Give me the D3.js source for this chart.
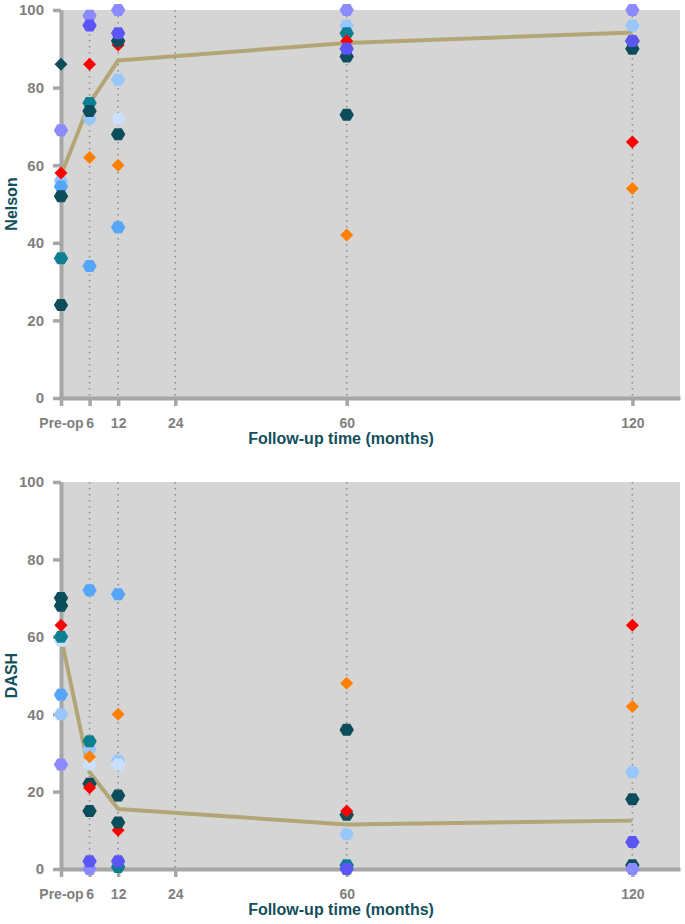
<!DOCTYPE html>
<html>
<head>
<meta charset="utf-8">
<script src="https://cdn.jsdelivr.net/npm/d3@7"></script>
<style>
	body { margin: 0; background: #fff; }
	text { font-family: "Liberation Sans", Arial, sans-serif; font-weight: bold; }
</style>
</head>
<body>
<div id="chart-area"></div>
<script>
// SVG Size
let width = 685,
	height = 924;

// time points (Pre-op = 0)
const months = [0, 6, 12, 60, 120];
const xTicks = [0, 6, 12, 24, 60, 120];
const xTickLabels = ["Pre-op", "6", "12", "24", "60", "120"];
const gridMonths = [6, 12, 24, 60, 120];
const yTicks = [0, 20, 40, 60, 80, 100];

// one entry per patient, in drawing order
const seriesNames = ["pale", "vpale", "light", "teal", "darkA", "red", "darkB", "lavender", "violet", "orange", "darkDiamond"];

// values at Pre-op, 6, 12, 60, 120 months
const nelsonValues = [
	[56, 72, 82, 96, 96],
	[null, null, 72, null, null],
	[54.5, 34, 44, null, null],
	[36, 76, null, 94, null],
	[52, 74, 68, 73, 90],
	[58, 86, 91, 92, 66],
	[24, null, 92, 88, 92],
	[69, 98.5, 100, 100, 100],
	[null, 96, 94, 90, 92],
	[null, 62, 60, 42, 54],
	[86, null, null, null, null]
];
const dashValues = [
	[40, 31, 28, 9, 25],
	[59, 27, 27, null, null],
	[45, 72, 71, null, null],
	[60, 33, 0.5, 1, null],
	[70, 22, 19, 14, 18],
	[63, 21, 10, 15, 63],
	[68, 15, 12, 36, 1],
	[27, 0, null, null, 0],
	[null, 2, 2, 0, 7],
	[null, 29, 40, 48, 42],
	[null, null, null, null, null]
];

const nelsonMean = [57.5, 76, 87, 91.5, 94.2];
const dashMean = [60, 25, 15.5, 11.5, 12.5];

// marker looks
const markerStyle = {
	pale: { color: "#99c6fb", shape: "hex" },
	vpale: { color: "#c9dffb", shape: "hex" },
	light: { color: "#55a6f8", shape: "hex" },
	teal: { color: "#0e7e92", shape: "hex" },
	darkA: { color: "#0b4d5b", shape: "hex" },
	red: { color: "#ff0000", shape: "diamond" },
	darkB: { color: "#0b4d5b", shape: "hex" },
	lavender: { color: "#8b8bff", shape: "hex" },
	violet: { color: "#5b55f6", shape: "hex" },
	orange: { color: "#ff8000", shape: "diamond" },
	darkDiamond: { color: "#0b4d5b", shape: "diamond" }
};

const axisGray = "#a6a6a6",
	labelGray = "#7f7f7f",
	titleColor = "#134f5c";

function markerPath(shape) {
	if (shape == "diamond") {
		return "M0,-6.5L6.5,0L0,6.5L-6.5,0Z";
	}
	return "M-7.2,0L-3.6,-6L3.6,-6L7.2,0L3.6,6L-3.6,6Z";
}

let svg = d3.select("#chart-area").append("svg")
	.attr("width", width)
	.attr("height", height);

drawPanel(nelsonValues, nelsonMean, "Nelson", 10, 398);
drawPanel(dashValues, dashMean, "DASH", 482, 869);

function drawPanel(values, mean, yLabel, top, bottom) {
	let g = svg.append("g");

	let x = d3.scaleLinear()
		.domain([0, 130])
		.range([61, 680]);
	let y = d3.scaleLinear()
		.domain([0, 100])
		.range([bottom, top]);

	// plot background
	g.append("rect")
		.attr("x", x(0))
		.attr("y", y(100))
		.attr("width", x(130) - x(0))
		.attr("height", y(0) - y(100))
		.attr("fill", "#d5d5d5");

	// dotted vertical grid
	g.selectAll(".grid").data(gridMonths).enter()
		.append("line")
		.attr("x1", d => x(d))
		.attr("x2", d => x(d))
		.attr("y1", y(100))
		.attr("y2", y(0))
		.attr("stroke", "#8f8f8f")
		.attr("stroke-width", 1.6)
		.attr("stroke-dasharray", "1.6,4.4");

	// axes
	let xAxis = d3.axisBottom(x)
		.tickValues(xTicks)
		.tickFormat((d, i) => xTickLabels[i])
		.tickSize(8)
		.tickSizeOuter(0)
		.tickPadding(12);
	let yAxis = d3.axisLeft(y)
		.tickValues(yTicks)
		.tickSize(8)
		.tickSizeOuter(0)
		.tickPadding(9);

	let xg = g.append("g")
		.attr("transform", "translate(0," + y(0) + ")")
		.call(xAxis);
	let yg = g.append("g")
		.attr("transform", "translate(" + x(0) + ",0)")
		.call(yAxis);

	[xg, yg].forEach(a => {
		a.select(".domain").attr("stroke", axisGray).attr("stroke-width", 4);
		a.selectAll(".tick line").attr("stroke", axisGray).attr("stroke-width", 3.5);
		a.selectAll(".tick text")
			.attr("fill", labelGray)
			.style("font-family", "'Liberation Sans', Arial, sans-serif")
			.style("font-weight", "bold");
	});
	xg.selectAll(".tick text").style("font-size", "14px");
	yg.selectAll(".tick text").style("font-size", "15px");

	// mean line
	let line = d3.line()
		.x((d, i) => x(months[i]))
		.y(d => y(d));
	g.append("path")
		.datum(mean)
		.attr("d", line)
		.attr("fill", "none")
		.attr("stroke", "#b2a677")
		.attr("stroke-width", 4)
		.attr("stroke-linejoin", "round");

	// individual patients
	seriesNames.forEach((name, s) => {
		let pts = values[s]
			.map((v, i) => ({ t: months[i], v: v }))
			.filter(d => d.v != null);
		g.selectAll(".pt-" + name).data(pts).enter()
			.append("path")
			.attr("class", "pt-" + name)
			.attr("d", markerPath(markerStyle[name].shape))
			.attr("transform", d => "translate(" + x(d.t) + "," + y(d.v) + ")")
			.attr("fill", markerStyle[name].color);
	});

	// titles
	g.append("text")
		.attr("x", 341)
		.attr("y", bottom + 46)
		.attr("text-anchor", "middle")
		.attr("fill", titleColor)
		.style("font-size", "16px")
		.text("Follow-up time (months)");

	g.append("text")
		.attr("transform", "translate(17," + (top + bottom) / 2 + ") rotate(-90)")
		.attr("text-anchor", "middle")
		.attr("fill", titleColor)
		.style("font-size", "16px")
		.text(yLabel);
}
</script>
</body>
</html>
